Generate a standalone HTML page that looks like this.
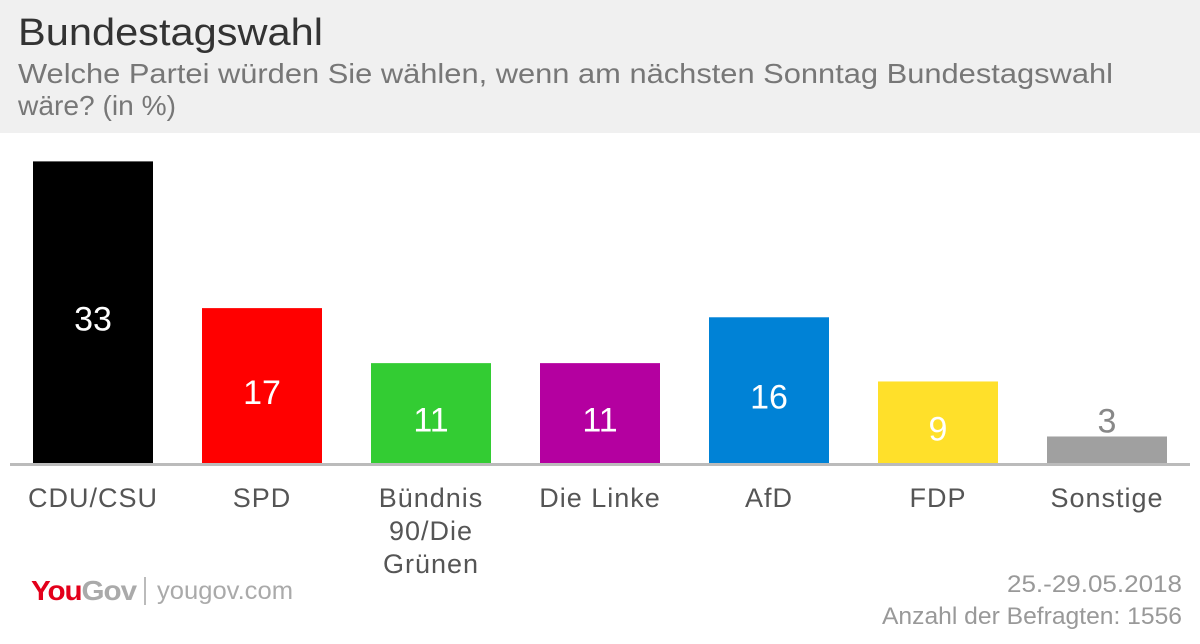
<!DOCTYPE html>
<html><head><meta charset="utf-8"><style>
body{margin:0;width:1200px;height:639px;overflow:hidden;background:#fff;font-family:"Liberation Sans",sans-serif;}
</style></head><body>
<svg width="1200" height="639" xmlns="http://www.w3.org/2000/svg">
<rect x="0" y="0" width="1200" height="133" fill="#f0f0f0"/>
<text x="18" y="45" font-size="38" fill="#333" textLength="305" lengthAdjust="spacingAndGlyphs">Bundestagswahl</text>
<text x="18" y="83" font-size="28" fill="#777" textLength="1095" lengthAdjust="spacingAndGlyphs">Welche Partei würden Sie wählen, wenn am nächsten Sonntag Bundestagswahl</text>
<text x="18" y="115" font-size="28" fill="#777" textLength="158" lengthAdjust="spacingAndGlyphs">wäre? (in %)</text>
<g id="bars"></g>
<line x1="10" y1="464.5" x2="1190" y2="464.5" stroke="#bbb" stroke-width="3"/>
<text x="31" y="600" font-size="28" font-weight="bold" fill="#e3001b" letter-spacing="-1" textLength="105" lengthAdjust="spacingAndGlyphs">You<tspan fill="#aaa">Gov</tspan></text>
<line x1="145" y1="577" x2="145" y2="605" stroke="#bbb" stroke-width="2"/>
<text x="157" y="599" font-size="25" fill="#aaa" textLength="136" lengthAdjust="spacingAndGlyphs">yougov.com</text>
<text x="1182" y="592" font-size="24" fill="#999" text-anchor="end" textLength="175" lengthAdjust="spacingAndGlyphs">25.-29.05.2018</text>
<text x="1182" y="624" font-size="24" fill="#999" text-anchor="end" textLength="300" lengthAdjust="spacingAndGlyphs">Anzahl der Befragten: 1556</text>
</svg>
<script>
const categories=[["CDU/CSU"],["SPD"],["Bündnis","90/Die","Grünen"],["Die Linke"],["AfD"],["FDP"],["Sonstige"]];
const values=[33,17,11,11,16,9,3];
const colors=["#000000","#ff0000","#33cc33","#b400a0","#0082d6","#ffe02a","#a0a0a0"];
const ns="http://www.w3.org/2000/svg";
const g=document.getElementById("bars");
const base=464, scale=9.17, x0=33, step=169, bw=120;
const xPos=i=>x0+i*step;
const yPos=v=>base-v*scale;
values.forEach((v,i)=>{
  const r=document.createElementNS(ns,"rect");
  r.setAttribute("x",xPos(i));r.setAttribute("y",yPos(v));
  r.setAttribute("width",bw);r.setAttribute("height",base-yPos(v));
  r.setAttribute("fill",colors[i]);
  
  
  g.appendChild(r);
  const t=document.createElementNS(ns,"text");
  const h=base-yPos(v);
  const inside=h>50;
  t.setAttribute("x",xPos(i)+bw/2);
  t.setAttribute("y",inside?yPos(v)+h/2+18:yPos(v)-4);
  t.setAttribute("text-anchor","middle");t.setAttribute("font-size","34");
  t.setAttribute("fill",inside?"#fff":"#888");
  t.textContent=v;
  
  
  g.appendChild(t);
  categories[i].forEach((line,j)=>{
    const c=document.createElementNS(ns,"text");
    c.setAttribute("x",xPos(i)+bw/2);c.setAttribute("y",507+j*33);
    c.setAttribute("text-anchor","middle");c.setAttribute("font-size","27");c.setAttribute("fill","#555");
    c.setAttribute("letter-spacing","1");
    c.textContent=line;
    
    
    g.appendChild(c);
  });
});
</script>
</body></html>
